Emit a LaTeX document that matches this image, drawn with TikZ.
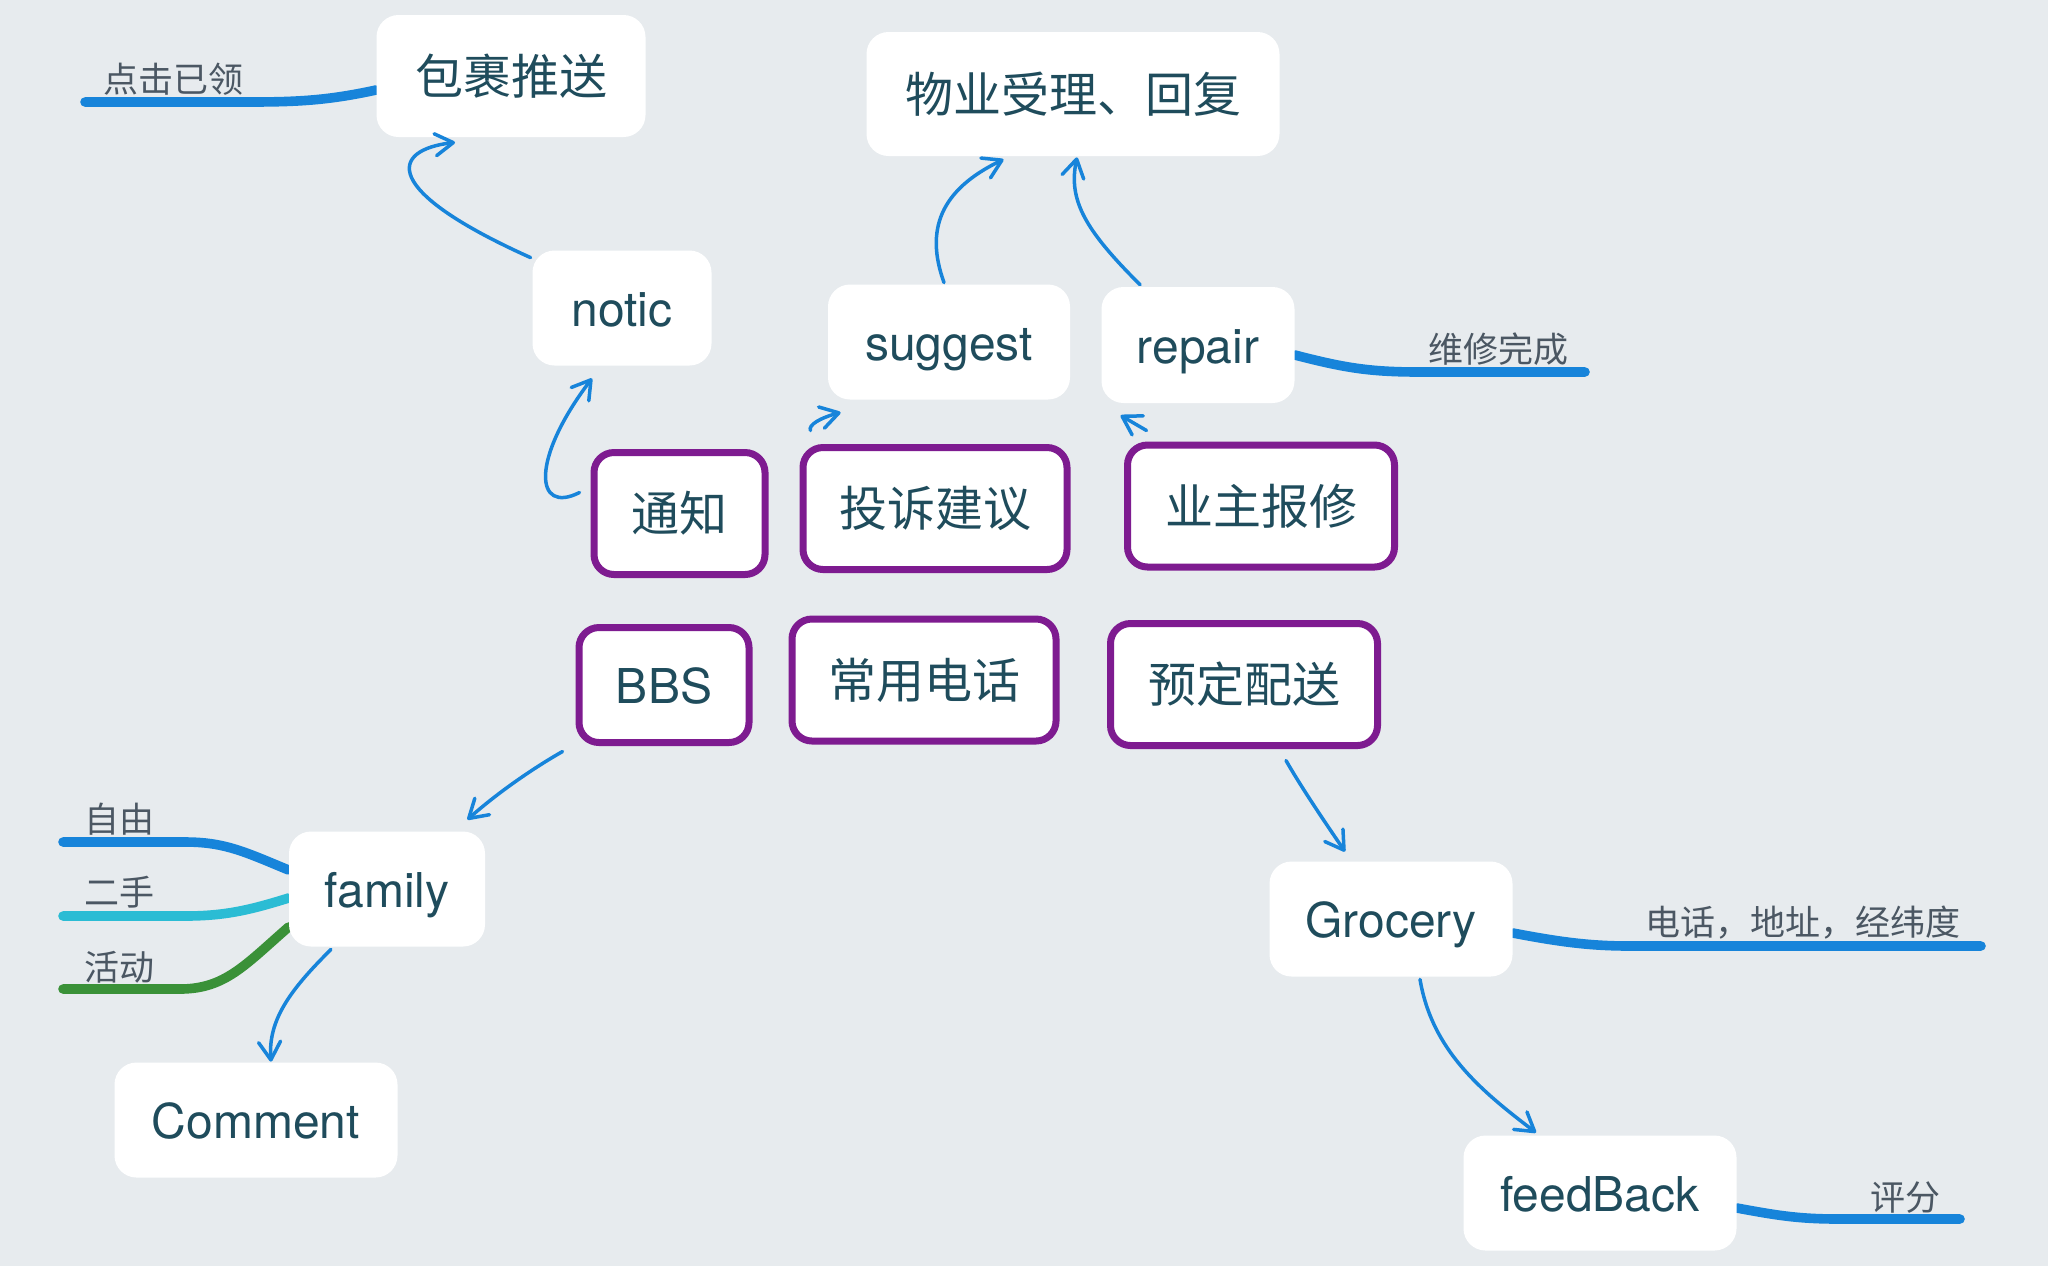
\documentclass[tikz,border=0pt]{standalone}
\usepackage{fontspec}
\setmainfont{TeX Gyre Heros}
\newfontfamily\cjk{Noto Sans CJK SC}
\usetikzlibrary{arrows.meta,calc}
\definecolor{BackColor}{HTML}{E7EBEE}
\definecolor{TextColor}{HTML}{1F4C5C}
\definecolor{LabelColor}{HTML}{4B5763}
\definecolor{LinkBlue}{HTML}{1784DA}
\definecolor{TopicPurple}{HTML}{7E1B90}
\definecolor{LeafCyan}{HTML}{2BBCD4}
\definecolor{LeafGreen}{HTML}{3A9138}
\pgfdeclarelayer{back}
\pgfsetlayers{back,main}
\tikzset{%
	% Style of the white box
	Node/.style={rectangle,rounded corners=11pt,fill=white,inner sep=0,minimum height=57.5pt,
		text=TextColor,text height=18pt,text depth=0pt,font=\fontsize{24}{24}\selectfont},
	% Style of the framed topic box
	Topic/.style={Node,draw=TopicPurple,line width=3.5pt,minimum height=61pt,rounded corners=10pt},
	% Chinese text in a box
	CJK/.style={font=\cjk\fontsize{24}{24}\selectfont},
	% Style of the branch label
	BranchName/.style={font=\cjk\fontsize{17.5}{17.5}\selectfont,text=LabelColor,inner sep=0,anchor=base west},
	% Style of the arrow
	Connection/.style={draw=LinkBlue,line width=1.75pt,line cap=round,-{Straight Barb[length=9pt,width=11pt,round]}},
	% Style of the thick branch
	Branch/.style={draw=#1,line width=4.8pt,line cap=round},
	Branch/.default=LinkBlue,
}

\begin{document}
\begin{tikzpicture}[x=0.5pt,y=-0.5pt] % STYLES

\useasboundingbox (0,0) rectangle (2048,1266);
\begin{pgfonlayer}{back}
\fill[BackColor] (0,0) rectangle (2048,1266);
\end{pgfonlayer}

%~~~~~~~~~~~~~~~~~~~~~~~~~~~~~~~~~~~~~~~~~~~~~~~~~~
% Set Nodes
%~~~~~~~~~~~~~~~~~~~~~~~~~~~~~~~~~~~~~~~~~~~~~~~~~~
\node[Node,CJK,minimum width=134.5pt,minimum height=61pt] (N1) at (511, 76) {包裹推送};
\node[Node,CJK,minimum width=206.5pt,minimum height=62pt] (N2) at (1073, 94) {物业受理、回复};
\node[Node,minimum width=89.5pt] (N3) at (622, 308) {notic};
\node[Node,minimum width=121pt] (N4) at (949, 342) {suggest};
\node[Node,minimum width=96.5pt,minimum height=58pt] (N5) at (1198, 345) {repair};

\node[Topic,CJK,minimum width=85.5pt] (N6) at (679.5, 513.5) {通知};
\node[Topic,CJK,minimum width=132pt] (N7) at (935, 508.5) {投诉建议};
\node[Topic,CJK,minimum width=133.5pt] (N8) at (1261, 506) {业主报修};
\node[Topic,minimum width=85pt,minimum height=57.5pt] (N9) at (664, 685) {BBS};
\node[Topic,CJK,minimum width=132pt] (N10) at (924, 680) {常用电话};
\node[Topic,CJK,minimum width=133.5pt] (N11) at (1244, 684.5) {预定配送};

\node[Node,minimum width=98pt] (N12) at (387, 889) {family};
\node[Node,minimum width=141.5pt] (N13) at (256, 1120) {Comment};
\node[Node,minimum width=121.5pt] (N14) at (1391, 919) {Grocery};
\node[Node,minimum width=136.5pt] (N15) at (1600, 1193) {feedBack};

%~~~~~~~~~~~~~~~~~~~~~~~~~~~~~~~~~~~~~~~~~~~~~~~~~~
% Set Branches
%~~~~~~~~~~~~~~~~~~~~~~~~~~~~~~~~~~~~~~~~~~~~~~~~~~
\coordinate (L1) at (85, 102);
\coordinate (L2) at (1585, 372);
\coordinate (L3) at (1981, 946);
\coordinate (L4) at (1960, 1219);
\coordinate (L5) at (63, 842);
\coordinate (L6) at (63, 916);
\coordinate (L7) at (63, 989);

\begin{pgfonlayer}{back}
%Branch from Node N1 to L1
\draw[Branch] ($ (N1.west) + (0, 14) $) .. controls (330, 100) and (300, 102) .. (250, 102) -- (L1);
%Branch from Node N5 to L2
\draw[Branch] ($ (N5.east) + (0, 10) $) .. controls (1345, 368) and (1370, 372) .. (1420, 372) -- (L2);
%Branch from Node N14 to L3
\draw[Branch] ($ (N14.east) + (0, 14) $) .. controls (1560, 942) and (1590, 946) .. (1630, 946) -- (L3);
%Branch from Node N15 to L4
\draw[Branch] ($ (N15.east) + (0, 15) $) .. controls (1780, 1216) and (1800, 1219) .. (1840, 1219) -- (L4);
%Branches from Node N12 to L5, L6, L7
\draw[Branch] ($ (N12.west) + (0, -19) $) .. controls (245, 852) and (225, 842) .. (185, 842) -- (L5);
\draw[Branch=LeafCyan] ($ (N12.west) + (0, 9) $) .. controls (250, 910) and (225, 916) .. (185, 916) -- (L6);
\draw[Branch=LeafGreen] ($ (N12.west) + (0, 38) $) .. controls (245, 965) and (225, 989) .. (180, 989) -- (L7);
\end{pgfonlayer}

\node[BranchName] (T1) at (103, 92) {点击已领};
\node[BranchName] (T2) at (1428, 362) {维修完成};
\node[BranchName] (T3) at (1645, 935) {电话，地址，经纬度};
\node[BranchName] (T4) at (1870, 1210) {评分};
\node[BranchName] (T5) at (84, 832) {自由};
\node[BranchName] (T6) at (84, 905) {二手};
\node[BranchName] (T7) at (84, 980) {活动};

%~~~~~~~~~~~~~~~~~~~~~~~~~~~~~~~~~~~~~~~~~~~~~~~~~~
% Set Arrows
%~~~~~~~~~~~~~~~~~~~~~~~~~~~~~~~~~~~~~~~~~~~~~~~~~~
%Arrow from Node N3 to Node N1
\draw[Connection] ($ (N3.north west) + (-1.5, 7.5) $) .. controls (380, 190) and (390, 150) .. ($ (N1.south) + (-56, 5) $);
%Arrow from Node N6 to Node N3
\draw[Connection] ($ (N6.west) + (-11, -21) $) .. controls (535, 515) and (530, 460) .. ($ (N3.south) + (-30, 12.5) $);
%Arrow from Node N7 to Node N4
\draw[Connection] ($ (N7.north west) + (11, -13.5) $) .. controls (808, 425) and (820, 418) .. ($ (N4.south west) + (13, 12.5) $);
%Arrow from Node N4 to Node N2
\draw[Connection] ($ (N4.north) + (-5, -1.5) $) .. controls (925, 230) and (940, 190) .. ($ (N2.south) + (-69.5, 3) $);
%Arrow from Node N5 to Node N2
\draw[Connection] ($ (N5.north) + (-58, -2) $) .. controls (1085, 230) and (1068, 200) .. ($ (N2.south) + (4, 1) $);
%Arrow from Node N8 to Node N5
\draw[Connection] ($ (N8.north west) + (22.5, -11) $) -- ($ (N5.south west) + (19.5, 12) $);
%Arrow from Node N9 to Node N12
\draw[Connection] ($ (N9.south west) + (-13, 5.5) $) .. controls (530, 770) and (495, 795) .. ($ (N12.north east) + (-18, -11.5) $);
%Arrow from Node N12 to Node N13
\draw[Connection] ($ (N12.south) + (-56, 2.5) $) .. controls (290, 990) and (268, 1020) .. ($ (N13.north) + (15, -0.5) $);
%Arrow from Node N11 to Node N14
\draw[Connection] ($ (N11.south) + (42, 11.5) $) .. controls (1300, 785) and (1320, 815) .. ($ (N14.north) + (-46, -9.5) $);
%Arrow from Node N14 to Node N15
\draw[Connection] ($ (N14.south) + (29, 2.5) $) .. controls (1432, 1050) and (1480, 1090) .. ($ (N15.north) + (-64, -2.5) $);

\end{tikzpicture}
\end{document}
